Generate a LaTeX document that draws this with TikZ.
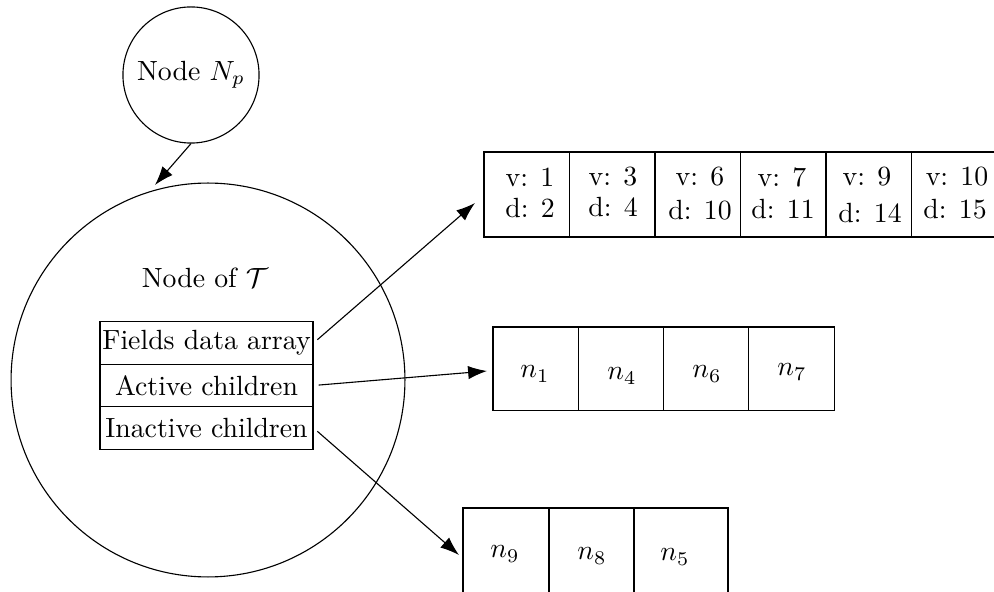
\documentclass[tikz,border=0pt]{standalone}
\usetikzlibrary{arrows.meta,shapes.geometric}
\begin{document}
\begin{tikzpicture}[x=0.36pt,y=-0.36pt,
  cell/.style={draw, inner sep=0pt, minimum width=30.8pt, minimum height=30.6pt},
  mcell/.style={draw, inner sep=0pt, minimum width=30.7pt, minimum height=30.2pt},
  bcell/.style={draw, inner sep=0pt, minimum height=31.7pt},
  rowbox/.style={draw, inner sep=0pt, minimum width=76.7pt, minimum height=15.4pt},
  arr/.style={-{Latex[length=6.8pt,width=4.8pt]}, line width=0.4pt},
  lbl/.style={inner sep=0pt}]
\useasboundingbox (0,0) rectangle (994,592);
\clip (0,0) rectangle (994,592);

% parent node and tree node
\node[draw,circle,minimum size=49pt,inner sep=0pt] (np) at (191,75) {Node $N_p$};
\node[draw,circle,minimum size=141.8pt,inner sep=0pt] (tree) at (208,380) {};
\node[lbl] (treelbl) at (205,278) {Node of $\mathcal{T}$};

% field table
\node[rowbox] (fields) at (206.5,343) {Fields data array};
\node[rowbox] (active) at (206.5,385.5) {Active children};
\node[rowbox] (inactive) at (206.5,428) {Inactive children};

% top array
\foreach \i/\x in {1/526.75,2/612.25,3/697.75,4/783.25,5/868.75,6/954.25}
  \node[cell] (t\i) at (\x,194.5) {};
\node[lbl] (v1) at (530,177) {v: 1};
\node[lbl] (v2) at (613,177) {v: 3};
\node[lbl] (v3) at (700,177) {v: 6};
\node[lbl] (v4) at (782,177) {v: 7};
\node[lbl] (v5) at (867,177) {v: 9};
\node[lbl] (v6) at (957,177) {v: 10};
\node[lbl] (d1) at (530,208) {d: 2};
\node[lbl] (d2) at (613,207) {d: 4};
\node[lbl] (d3) at (700,210) {d: 10};
\node[lbl] (d4) at (783,209) {d: 11};
\node[lbl] (d5) at (870,213) {d: 14};
\node[lbl] (d6) at (955,209) {d: 15};

% middle array
\foreach \i/\x in {1/535.6,2/620.9,3/706.1,4/791.4}
  \node[mcell] (m\i) at (\x,369) {};
\node[lbl] (mn1) at (535,374) {$n_1$};
\node[lbl] (mn4) at (622,376) {$n_4$};
\node[lbl] (mn6) at (707,374) {$n_6$};
\node[lbl] (mn7) at (792,372) {$n_7$};

% bottom array
\node[bcell,minimum width=31.0pt] (b1) at (506,552) {};
\node[bcell,minimum width=30.6pt] (b2) at (591.5,552) {};
\node[bcell,minimum width=33.8pt] (b3) at (681,552) {};
\node[lbl] (bn9) at (505,554) {$n_9$};
\node[lbl] (bn8) at (592,556) {$n_8$};
\node[lbl] (bn5) at (675,557) {$n_5$};

% arrow targets
\coordinate (tipA) at (475,203);
\coordinate (tipB) at (487,371);
\coordinate (tipC) at (459,555);
\coordinate (tipT) at (155,185);

\draw[arr] (np.south) -- (tipT);
\draw[arr, shorten <=1.8pt] (fields.east) -- (tipA);
\draw[arr, shorten <=1.8pt] (active.east) -- (tipB);
\draw[arr, shorten <=1.8pt] (inactive.east) -- (tipC);
\end{tikzpicture}
\end{document}
